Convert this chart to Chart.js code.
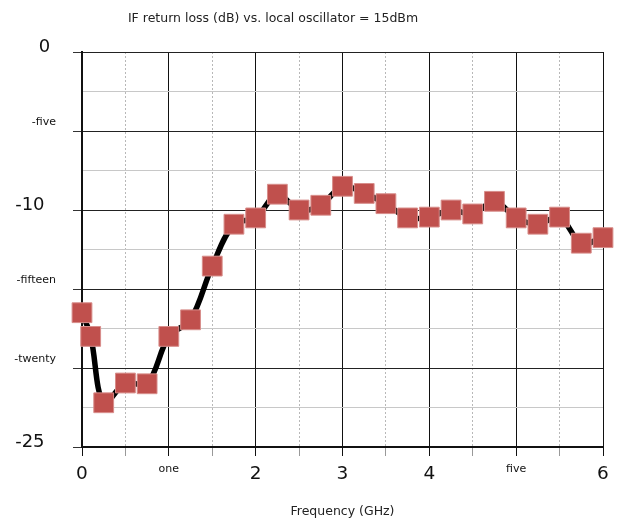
<!DOCTYPE html>
<html>
<head>
<meta charset="utf-8">
<script src="https://cdn.jsdelivr.net/npm/chart.js@4"></script>
<style>
  html, body { margin: 0; padding: 0; background: #fff; }
  #wrap { width: 618px; height: 520px; }
</style>
</head>
<body>
<div id="wrap"><canvas id="chart" width="618" height="520"></canvas></div>
<script>
// data
const freqGHz = [0, 0.1, 0.25, 0.5, 0.75, 1, 1.25, 1.5, 1.75, 2, 2.25, 2.5, 2.75, 3,
                 3.25, 3.5, 3.75, 4, 4.25, 4.5, 4.75, 5, 5.25, 5.5, 5.75, 6];
const returnLossDb = [-16.5, -18.0, -22.2, -20.95, -21.0, -18.0, -16.95, -13.55, -10.9, -10.5,
                      -9.0, -10.0, -9.7, -8.5, -8.95, -9.6, -10.5, -10.45, -10.0, -10.25,
                      -9.45, -10.5, -10.9, -10.45, -12.1, -11.75];
const xTickValues = [0, 1, 2, 3, 4, 5, 6];
const xTickLabels = ['0', 'one', '2', '3', '4', 'five', '6'];
const yTickValues = [0, -5, -10, -15, -20, -25];
const yTickLabels = ['0', '-five', '-10', '-fifteen', '-twenty', '-25'];
const chartTitle = 'IF return loss (dB) vs. local oscillator = 15dBm';
const xAxisTitle = 'Frequency (GHz)';

const FONT = '"DejaVu Sans", sans-serif';
const isWord = s => /[a-z]/.test(s);

function xLabel(v) {
  const i = xTickValues.findIndex(t => Math.abs(t - v) < 1e-6);
  return i < 0 ? null : xTickLabels[i];
}
function yLabel(v) {
  const i = yTickValues.findIndex(t => Math.abs(t - v) < 1e-6);
  return i < 0 ? null : yTickLabels[i];
}

// title sits left of the plot centre in the reference, so draw it ourselves
const titlePlugin = {
  id: 'offsetTitle',
  afterDraw(chart) {
    const ctx = chart.ctx;
    ctx.save();
    ctx.font = '12.5px ' + FONT;
    ctx.fillStyle = '#222';
    ctx.textAlign = 'center';
    ctx.textBaseline = 'middle';
    ctx.fillText(chartTitle, 273, 19);
    ctx.restore();
  }
};

new Chart(document.getElementById('chart'), {
  type: 'line',
  data: {
    datasets: [{
      data: freqGHz.map((x, i) => ({ x: x, y: returnLossDb[i] })),
      borderColor: '#000',
      borderWidth: 5.5,
      tension: 0.35,
      pointStyle: 'rect',
      pointRadius: 14,
      pointHoverRadius: 14,
      pointBackgroundColor: '#c0504d',
      pointBorderColor: '#d88e8b',
      pointBorderWidth: 1,
      clip: false
    }]
  },
  options: {
    responsive: false,
    animation: false,
    devicePixelRatio: 1,
    layout: { padding: { top: 52, right: 14, bottom: 0, left: 0 } },
    plugins: {
      legend: { display: false },
      title: { display: false },
      tooltip: { enabled: false }
    },
    scales: {
      x: {
        type: 'linear',
        min: 0,
        max: 6,
        afterFit: s => { s.height = 73; },
        border: {
          color: '#111',
          width: 2,
          dash: ctx => (ctx.tick && xLabel(ctx.tick.value) === null) ? [2, 2] : []
        },
        grid: {
          color: ctx => (ctx.tick && xLabel(ctx.tick.value) === null) ? '#b8b8b8' : '#111',
          lineWidth: 1,
          tickLength: 9,
          tickColor: ctx => (ctx.tick && xLabel(ctx.tick.value) === null) ? '#999' : '#111'
        },
        ticks: {
          stepSize: 0.5,
          autoSkip: false,
          maxRotation: 0,
          padding: 7,
          color: '#111',
          font: ctx => {
            const l = ctx.tick ? xLabel(ctx.tick.value) : null;
            return (l && isWord(l)) ? { family: FONT, size: 11 } : { family: FONT, size: 18.5 };
          },
          callback: v => xLabel(v) || ''
        },
        title: {
          display: true,
          text: xAxisTitle,
          color: '#222',
          font: { family: FONT, size: 12.5 },
          padding: { top: 18, bottom: 0.5 }
        }
      },
      y: {
        min: -25,
        max: 0,
        afterFit: s => { s.width = 82; },
        border: { color: '#111', width: 2 },
        grid: {
          color: ctx => (ctx.tick && yLabel(ctx.tick.value) === null) ? '#c8c8c8' : '#222',
          lineWidth: 1,
          tickLength: 9,
          tickColor: ctx => (ctx.tick && yLabel(ctx.tick.value) === null) ? 'rgba(0,0,0,0)' : '#333'
        },
        ticks: {
          stepSize: 2.5,
          padding: 17,
          color: '#111',
          // second empty line lifts the label above its grid line, as in the reference
          font: ctx => {
            const l = ctx.tick ? yLabel(ctx.tick.value) : null;
            return (l && isWord(l))
              ? { family: FONT, size: 11, lineHeight: '17px' }
              : { family: FONT, size: 18, lineHeight: '10px' };
          },
          callback: v => {
            const l = yLabel(v);
            if (l === null) return '';
            if (isWord(l)) return [l, ''];
            return [l === '0' ? l + '\u00a0' : l + '\u00a0\u00a0', ''];
          }
        }
      }
    }
  },
  plugins: [titlePlugin]
});
</script>
</body>
</html>
